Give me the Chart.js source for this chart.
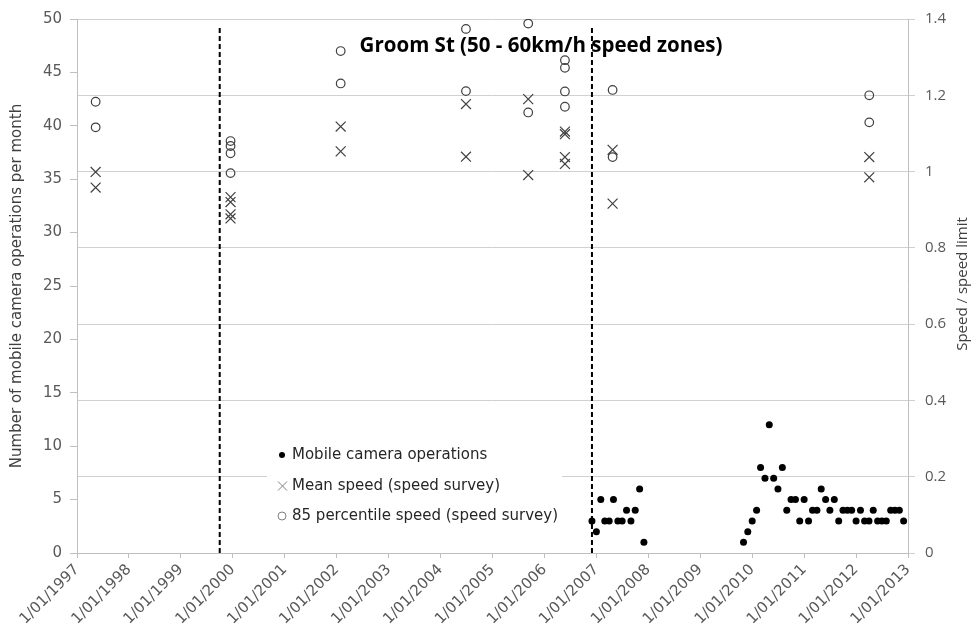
<!DOCTYPE html>
<html><head><meta charset="utf-8">
<script src="https://cdn.jsdelivr.net/npm/chart.js@4/dist/chart.umd.min.js"></script>
<style>html,body{margin:0;padding:0;background:#fff;}#wrap{width:976px;height:636px;position:relative;}</style>
</head><body><div id="wrap"><canvas id="c" width="976" height="636"></canvas></div>
<script>
const chartTitle = 'Groom St (50 - 60km/h speed zones)';
const leftAxisTitle = 'Number of mobile camera operations per month';
const rightAxisTitle = 'Speed / speed limit';
const legendLabels = ['Mobile camera operations', 'Mean speed (speed survey)', '85 percentile speed (speed survey)'];
const xTickPrefix = '1/01/';
const xMin = 1997, xMax = 2013;

const cameraMonths = [
  '2006-12','2007-01','2007-02','2007-03','2007-04','2007-05','2007-06','2007-07','2007-08','2007-09','2007-10','2007-11','2007-12',
  '2009-11','2009-12',
  '2010-01','2010-02','2010-03','2010-04','2010-05','2010-06','2010-07','2010-08','2010-09','2010-10','2010-11','2010-12',
  '2011-01','2011-02','2011-03','2011-04','2011-05','2011-06','2011-07','2011-08','2011-09','2011-10','2011-11','2011-12',
  '2012-01','2012-02','2012-03','2012-04','2012-05','2012-06','2012-07','2012-08','2012-09','2012-10','2012-11','2012-12'
];
const cameraCounts = [
  3,2,5,3,3,5,3,3,4,3,4,6,1,
  1,2,
  3,4,8,7,12,7,6,8,4,5,5,3,
  5,3,4,4,6,5,4,5,3,4,4,4,
  3,4,3,3,4,3,3,3,4,4,4,3
];

const surveyDates = ['1997-05-12','1999-12-16','2002-01-29','2004-06-28','2005-09-09','2006-05-25','2007-04-25','2012-04-03'];
const meanSpeed = [
  [0.999,0.958],
  [0.933,0.920,0.888,0.877],
  [1.118,1.053],
  [1.177,1.039],
  [1.190,0.991],
  [1.105,1.098,1.038,1.020],
  [1.057,0.916],
  [1.038,0.985]
];
const p85Speed = [
  [1.183,1.116],
  [1.080,1.067,1.048,0.996],
  [1.316,1.231],
  [1.374,1.211],
  [1.388,1.155],
  [1.292,1.272,1.210,1.170],
  [1.214,1.038],
  [1.200,1.129]
];
const markerDates = ['1999-10-01','2006-12-01'];
const markerTop = 49.4;

function toYear(s){
  const p = s.split('-').map(Number);
  const y = p[0], m = p[1], d = p[2] || 1;
  const t0 = Date.UTC(y,0,1), t1 = Date.UTC(y+1,0,1);
  return y + (Date.UTC(y,m-1,d) - t0) / (t1 - t0);
}

const cameraData = cameraMonths.map((m,i)=>({x:toYear(m), y:cameraCounts[i]}));
const meanData = surveyDates.flatMap((d,i)=>meanSpeed[i].map(v=>({x:toYear(d), y:v})));
const p85Data = surveyDates.flatMap((d,i)=>p85Speed[i].map(v=>({x:toYear(d), y:v})));

const markerSets = markerDates.map(d=>({
  type:'line', data:[{x:toYear(d),y:0},{x:toYear(d),y:markerTop}], yAxisID:'y',
  borderColor:'#000', borderWidth:2, borderDash:[5,3], pointRadius:0, showLine:true, fill:false
}));

const TICK = '#595959';
const overlay = {
  id:'overlay',
  afterDatasetsDraw(chart){
    const ctx = chart.ctx;
    ctx.save();
    ctx.fillStyle = '#fff';
    ctx.fillRect(267, 440, 295, 92);
    ctx.textBaseline = 'middle';
    ctx.textAlign = 'left';
    ctx.font = '15px "DejaVu Sans"';
    ctx.fillStyle = '#262626';
    const ly = [455, 486, 516];
    ctx.fillText(legendLabels[0], 292, ly[0]);
    ctx.fillText(legendLabels[1], 292, ly[1]);
    ctx.fillText(legendLabels[2], 292, ly[2]);
    ctx.beginPath(); ctx.arc(282, ly[0], 3, 0, Math.PI*2); ctx.fillStyle='#000'; ctx.fill();
    ctx.strokeStyle = '#7f7f7f'; ctx.lineWidth = 1;
    ctx.beginPath(); ctx.moveTo(278,ly[1]-4.5); ctx.lineTo(287,ly[1]+4.5); ctx.moveTo(287,ly[1]-4.5); ctx.lineTo(278,ly[1]+4.5); ctx.stroke();
    ctx.beginPath(); ctx.arc(282, ly[2], 4, 0, Math.PI*2); ctx.stroke();
    ctx.fillStyle = '#000';
    ctx.textAlign = 'center';
    ctx.font = 'bold 20.5px "Open Sans"';
    ctx.fillText(chartTitle, 541, 46);
    ctx.translate(963, 284);
    ctx.rotate(-Math.PI/2);
    ctx.font = '15px "Open Sans"';
    ctx.fillStyle = '#404040';
    ctx.fillText(rightAxisTitle, 0, 0);
    ctx.restore();
  }
};

new Chart(document.getElementById('c'), {
  type:'scatter',
  data:{datasets:[
    ...markerSets,
    {label:legendLabels[0], data:cameraData, yAxisID:'y', pointStyle:'circle', pointRadius:3.5, pointBackgroundColor:'#000', pointBorderWidth:0, borderColor:'#000'},
    {label:legendLabels[1], data:meanData, yAxisID:'y2', pointStyle:'crossRot', pointRadius:7, pointBorderColor:'#404040', pointBorderWidth:1.2, borderColor:'#404040'},
    {label:legendLabels[2], data:p85Data, yAxisID:'y2', pointStyle:'circle', pointRadius:4.3, pointBackgroundColor:'rgba(0,0,0,0)', pointBorderColor:'#404040', pointBorderWidth:1.2, borderColor:'#404040'}
  ]},
  options:{
    responsive:false, animation:false,
    layout:{padding:{top:16,left:0,right:0,bottom:0}},
    plugins:{legend:{display:false}, tooltip:{enabled:false}},
    scales:{
      x:{type:'linear', position:'bottom', min:xMin, max:xMax,
        afterFit(s){s.height = 83;},
        ticks:{stepSize:1, autoSkip:false, maxRotation:45, minRotation:45, padding:3, color:TICK,
          font:{family:'DejaVu Sans', size:15}, callback:v=>xTickPrefix+v},
        grid:{drawOnChartArea:false, color:'#bfbfbf', tickLength:5},
        border:{color:'#bfbfbf'}},
      y:{type:'linear', position:'left', min:0, max:50,
        afterFit(s){s.width = 77;},
        ticks:{stepSize:5, padding:8, color:TICK, font:{family:'DejaVu Sans', size:15}},
        grid:{drawOnChartArea:false, color:'#bfbfbf', tickLength:7},
        border:{color:'#bfbfbf'},
        title:{display:true, text:leftAxisTitle, color:'#404040', font:{family:'DejaVu Sans', size:15}, padding:{top:8,bottom:0}}},
      y2:{type:'linear', position:'right', min:0, max:1.4,
        afterFit(s){s.width = 68;},
        ticks:{stepSize:0.2, padding:10, color:TICK, font:{family:'Open Sans', size:15}, callback:v=>String(Number(v.toFixed(1)))},
        grid:{drawOnChartArea:true, color:'#d0d0d0', tickLength:7},
        border:{color:'#bfbfbf'}}
    }
  },
  plugins:[overlay]
});
</script></body></html>
